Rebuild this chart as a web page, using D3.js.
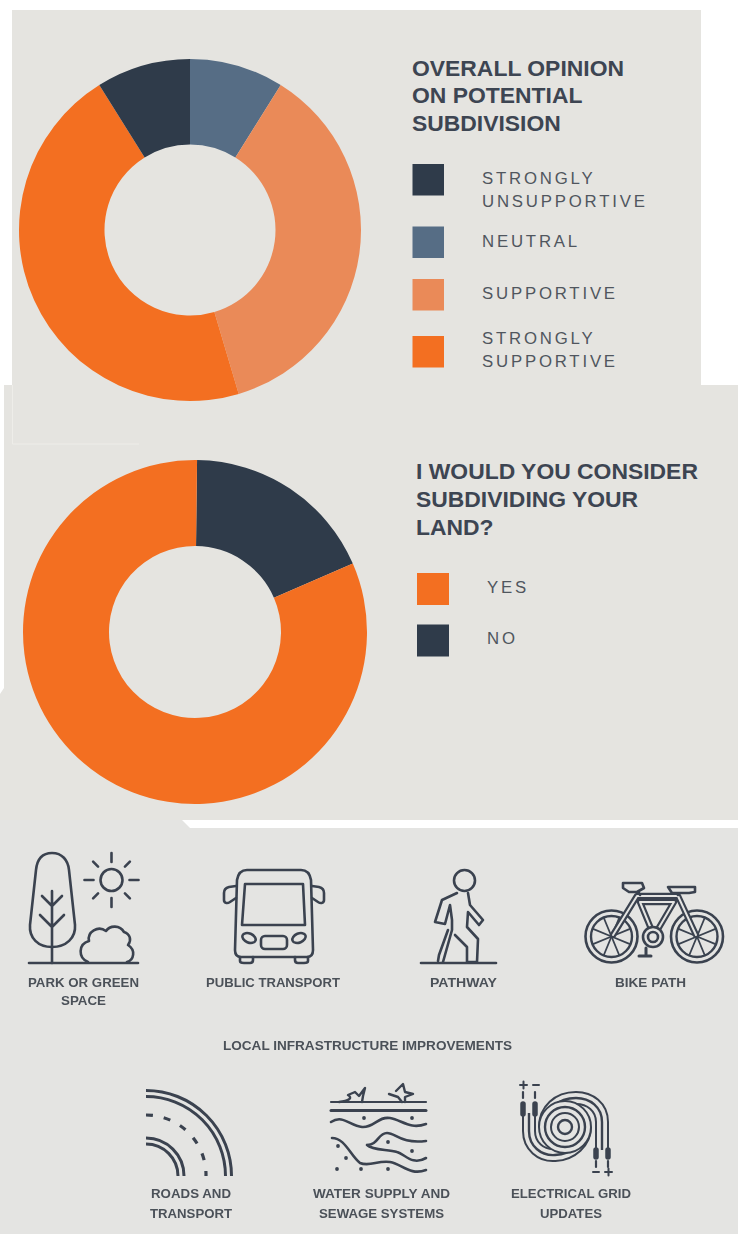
<!DOCTYPE html>
<html>
<head>
<meta charset="utf-8">
<script src="https://cdn.jsdelivr.net/npm/d3@7/dist/d3.min.js"></script>
<style>
  html, body { margin: 0; padding: 0; background: #fff; }
  svg { display: block; }
  text { font-family: "Liberation Sans", Arial, sans-serif; }
</style>
</head>
<body>
<svg id="chart" width="738" height="1234"></svg>
<script>
// Survey results
const opinionCategories = ["Neutral", "Supportive", "Strongly supportive", "Strongly unsupportive"];
const opinionValues = [8.9, 36.5, 45.7, 8.9];
const opinionColors = ["#566d85", "#ea8a58", "#f36f21", "#2f3b4a"];

const considerCategories = ["No", "Yes"];
const considerValues = [18.3, 81.7];
const considerColors = ["#2f3b4a", "#f36f21"];

const opinionTitle = ["OVERALL OPINION", "ON POTENTIAL", "SUBDIVISION"];
const considerTitle = ["I WOULD YOU CONSIDER", "SUBDIVIDING YOUR", "LAND?"];
const infrastructureTitle = "LOCAL INFRASTRUCTURE IMPROVEMENTS";

const svg = d3.select("#chart");
const PANEL = "#e5e4e0", PANEL_LOW = "#e4e4e2", INK = "#3a4350", TXT = "#4b5159";

svg.append("defs").append("filter").attr("id", "soft")
  .attr("x", "-2%").attr("y", "-2%").attr("width", "104%").attr("height", "104%")
  .append("feGaussianBlur").attr("stdDeviation", 0.45);

// Background sheets
svg.append("path").attr("fill", PANEL)
  .attr("d", "M12,10H701V385H738V820H182H0V694L4,688V385H12Z");
svg.append("rect").attr("x", 0).attr("y", 828).attr("width", 738).attr("height", 406).attr("fill", PANEL_LOW);
svg.append("path").attr("fill", PANEL_LOW).attr("d", "M0,820H182L190,828H0Z");
svg.append("path").attr("fill", "none").attr("stroke", "#eeede9").attr("stroke-width", 1)
  .attr("d", "M12.5,385V444H139");

// Donut rings
function donut(cx, cy, outer, inner, values, colors, turn) {
  const pie = d3.pie().sort(null).startAngle(turn).endAngle(turn + 2 * Math.PI)(values);
  const arc = d3.arc().innerRadius(inner).outerRadius(outer);
  const g = svg.append("g").attr("transform", `translate(${cx},${cy})`);
  g.selectAll("path").data(pie).join("path")
    .attr("d", arc)
    .attr("fill", (d, i) => colors[i]);
}
donut(190, 230, 171, 85.5, opinionValues, opinionColors, 0);
donut(195, 632, 172, 86, considerValues, considerColors, 0.012);

// Headings
function heading(lines, x, y0, step) {
  lines.forEach((t, i) => {
    svg.append("text").attr("x", x).attr("y", y0 + i * step)
      .attr("font-size", 22.9).attr("font-weight", 700).attr("fill", "#3d4552")
      .text(t);
  });
}
heading(opinionTitle, 412, 75.5, 27.5);
heading(considerTitle, 416, 479, 28);

// Legends
const legendType = { size: 16.8, spacing: 2.8, fill: "#50565e" };
function legend(rows, x, textX, w) {
  rows.forEach(r => {
    svg.append("rect").attr("x", x).attr("y", r.y).attr("width", w).attr("height", w).attr("fill", r.color);
    r.lines.forEach(l => {
      svg.append("text").attr("x", textX).attr("y", l[1])
        .attr("font-size", legendType.size).attr("letter-spacing", legendType.spacing)
        .attr("fill", legendType.fill).text(l[0]);
    });
  });
}
legend([
  { color: opinionColors[3], y: 164, lines: [["STRONGLY", 183.5], ["UNSUPPORTIVE", 206.5]] },
  { color: opinionColors[0], y: 226.5, lines: [["NEUTRAL", 247]] },
  { color: opinionColors[1], y: 279, lines: [["SUPPORTIVE", 299]] },
  { color: opinionColors[2], y: 336, lines: [["STRONGLY", 344], ["SUPPORTIVE", 366.5]] }
], 412.5, 482, 31.5);
legend([
  { color: considerColors[1], y: 573, lines: [["YES", 593]] },
  { color: considerColors[0], y: 624.5, lines: [["NO", 644]] }
], 417, 487, 32);

// Lower sheet: captions and line icons share a slight softness
const lower = svg.append("g").attr("filter", "url(#soft)");

function caption(t, cx, y, len) {
  lower.append("text").attr("x", cx).attr("y", y).attr("text-anchor", "middle")
    .attr("font-size", 12.5).attr("font-weight", 700).attr("fill", TXT)
    .attr("textLength", len).attr("lengthAdjust", "spacingAndGlyphs").text(t);
}
caption("PARK OR GREEN", 83.5, 987, 111);
caption("SPACE", 83.5, 1005, 45);
caption("PUBLIC TRANSPORT", 273, 987, 134);
caption("PATHWAY", 463.5, 987, 67);
caption("BIKE PATH", 650.5, 987, 71);
caption(infrastructureTitle, 367.5, 1050, 289);
caption("ROADS AND", 191, 1198, 80);
caption("TRANSPORT", 191, 1218, 82);
caption("WATER SUPPLY AND", 381.5, 1198, 137);
caption("SEWAGE SYSTEMS", 381.5, 1218, 125);
caption("ELECTRICAL GRID", 571, 1198, 120);
caption("UPDATES", 571, 1218, 62);

const icons = lower.append("g").attr("fill", "none").attr("stroke", INK)
  .attr("stroke-width", 2.6).attr("stroke-linecap", "round").attr("stroke-linejoin", "round");
const stroke = (d, w) => icons.append("path").attr("d", d).attr("stroke-width", w || 2.6);
const ring = (cx, cy, r, w) => icons.append("circle").attr("cx", cx).attr("cy", cy).attr("r", r).attr("stroke-width", w || 2.6);

// A wide dark band with a pale groove and a centre wire
function band(d) {
  icons.append("path").attr("d", d).attr("stroke-width", 14).attr("stroke-linecap", "butt");
  icons.append("path").attr("d", d).attr("stroke-width", 10).attr("stroke", PANEL_LOW).attr("stroke-linecap", "butt");
  icons.append("path").attr("d", d).attr("stroke-width", 2.4).attr("stroke-linecap", "butt");
}

// Park
stroke("M52,853C42,853 37,860 36,870L30,925C29,938 38,947 52,947C66,947 76,938 75,925L69,870C68,860 62,853 52,853Z");
stroke("M52,891V963M42,896L52,906L62,896M40,915L52,927L64,915");
stroke("M29,963H138");
ring(111.5, 880, 11);
d3.range(8).forEach(i => {
  const a = i * Math.PI / 4, r0 = i % 2 ? 19 : 18, r1 = i % 2 ? 26 : 27;
  stroke(`M${111.5 + r0 * Math.cos(a)},${880 + r0 * Math.sin(a)}L${111.5 + r1 * Math.cos(a)},${880 + r1 * Math.sin(a)}`);
});
stroke("M88,962C78,958 78,944 89,941C87,932 98,925 106,931C110,925 120,925 124,932C130,934 132,940 128,945C136,950 134,960 127,962");

// Bus
stroke("M247,870H301C307,870 310,874 311,880L313,950C313,954 311,957 307,957H241C237,957 235,954 235,950L237,880C238,874 241,870 247,870Z");
stroke("M245,884H303L305,925H242Z");
stroke("M236,886L229,887C225,888 224,890 224,893V900C224,903 227,904 230,902L236,898");
stroke("M312,886L319,887C323,888 324,890 324,893V900C324,903 321,904 318,902L312,898");
icons.append("ellipse").attr("cx", 249).attr("cy", 938).attr("rx", 7).attr("ry", 4.5).attr("transform", "rotate(22 249 938)");
icons.append("ellipse").attr("cx", 299).attr("cy", 938).attr("rx", 7).attr("ry", 4.5).attr("transform", "rotate(-22 299 938)");
icons.append("rect").attr("x", 261).attr("y", 936).attr("width", 26).attr("height", 13).attr("rx", 4);
stroke("M240,957V961C240,963 242,963 244,963H250C252,963 253,962 253,960V957");
stroke("M295,957V960C295,962 296,963 298,963H304C306,963 308,963 308,961V957");

// Walker
ring(464.5, 880.5, 10.5);
stroke("M457,893L442,900L435,922L445,924L450,905L452,920L452,930L443,962M455,935L467,947L467,962H477L478,939L467,927L468,912L479,925L483,920L470,905L468,893");
stroke("M448,930L439,955L438,961");
stroke("M421,963H496");

// Bicycle
[[611.5, 936.5], [697, 936.5]].forEach(c => {
  ring(c[0], c[1], 26, 2.6);
  ring(c[0], c[1], 20.5, 2.4);
  d3.range(8).forEach(i => {
    const a = i * Math.PI / 4 + Math.PI / 8;
    stroke(`M${c[0]},${c[1]}L${c[0] + 20 * Math.cos(a)},${c[1] + 20 * Math.sin(a)}`, 1.8);
  });
});
const frame = "M613,935L637,896H678L696,935M640,902H674L654,936Z";
icons.append("path").attr("d", frame).attr("stroke-width", 6.4);
icons.append("path").attr("d", frame).attr("stroke-width", 2).attr("stroke", PANEL_LOW);
icons.append("circle").attr("cx", 653).attr("cy", 937).attr("r", 10).attr("fill", PANEL_LOW);
ring(653, 937, 5);
stroke("M640,895L637,889M678,895L675,891");
stroke("M623,883H642L644,888L637,892H629L623,888Z").attr("fill", PANEL_LOW);
stroke("M668,887H695V892L689,893H672Z").attr("fill", PANEL_LOW);
stroke("M646,948V955M639,956H651", 3);

// Road
stroke("M146,1090.5A85.5,85.5 0 0 1 231.5,1176", 3).attr("stroke-linecap", "butt");
stroke("M146,1096.5A79.5,79.5 0 0 1 225.5,1176", 3).attr("stroke-linecap", "butt");
stroke("M146,1138A38,38 0 0 1 184,1176", 3).attr("stroke-linecap", "butt");
stroke("M146,1144A32,32 0 0 1 178,1176", 3).attr("stroke-linecap", "butt");
stroke("M146,1115A60,60 0 0 1 206,1176", 3.2).attr("stroke-dasharray", "7 11").attr("stroke-linecap", "butt");

// Water and sewage layers
stroke("M331,1102H426", 2.2);
stroke("M331,1110.5H426", 3);
stroke("M339,1102C349,1101 353,1098 348,1095L355,1092L359,1096L365,1088L363,1096L362,1102", 2.4);
stroke("M389,1094L398,1097L402,1102M396,1091L403,1084L405,1092L413,1094L405,1097V1102", 2.4);
stroke("M331,1122C343,1114 350,1126 362,1127C374,1128 378,1116 390,1118C402,1120 410,1130 426,1124");
stroke("M332,1138C345,1138 350,1155 360,1163C370,1167 378,1160 390,1162C402,1164 410,1176 426,1170");
stroke("M367,1145C378,1145 378,1133 387,1133C396,1133 400,1144 426,1141M367,1145C373,1151 388,1149 397,1152C405,1154 412,1166 426,1158");
[[364, 1118], [412, 1118], [338, 1146], [346, 1158], [337, 1169], [361, 1169], [388, 1169], [388, 1142], [412, 1151]]
  .forEach(p => icons.append("circle").attr("cx", p[0]).attr("cy", p[1]).attr("r", 1.9).attr("fill", INK).attr("stroke", "none"));

// Coiled cable
band("M529,1113V1131C529,1146 541,1156 555,1155C572,1154 585,1142 585,1127");
band("M602,1150V1122C602,1107 590,1098 576,1098C558,1098 545,1110 545,1127");
icons.append("circle").attr("cx", 565).attr("cy", 1127).attr("r", 20).attr("stroke-width", 14);
icons.append("circle").attr("cx", 565).attr("cy", 1127).attr("r", 20).attr("stroke-width", 10).attr("stroke", PANEL_LOW);
ring(565, 1127, 20, 2.4);
ring(565, 1127, 7, 2.4);
[523, 535].forEach(x => {
  stroke(`M${x},1098V1092`, 2.2);
  stroke(`M${x},1104V1114`, 5.5);
});
[596, 608].forEach(x => {
  stroke(`M${x},1150V1157`, 5.5);
  stroke(`M${x},1161V1167`, 2.2);
});
stroke("M520,1085H527M523.5,1081.5V1088.5M533,1085H539", 2);
stroke("M593,1172H599M605,1172H612M608.5,1168.5V1175.5", 2);
</script>
</body>
</html>
